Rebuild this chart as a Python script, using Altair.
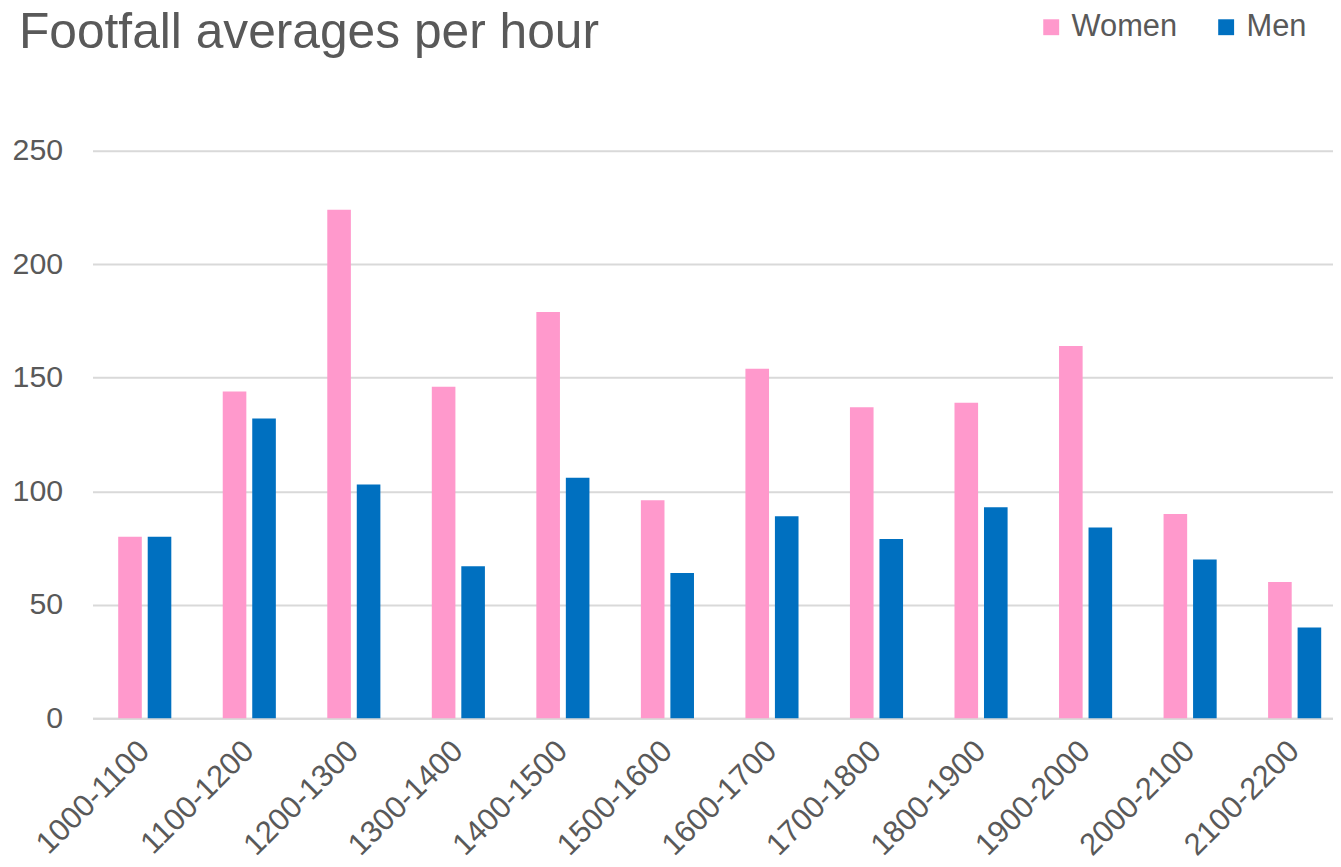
import altair as alt
import pandas as pd

hours = ["1000-1100", "1100-1200", "1200-1300", "1300-1400", "1400-1500", "1500-1600",
         "1600-1700", "1700-1800", "1800-1900", "1900-2000", "2000-2100", "2100-2200"]
women = [80, 144, 224, 146, 179, 96, 154, 137, 139, 164, 90, 60]
men = [80, 132, 103, 67, 106, 64, 89, 79, 93, 84, 70, 40]
series = ["Women", "Men"]
colors = ["#FF99CC", "#0070C0"]

rows = []
for i, h in enumerate(hours):
    rows.append({"hour": h, "gender": "Women", "value": women[i]})
    rows.append({"hour": h, "gender": "Men", "value": men[i]})
df = pd.DataFrame(rows)

font = "Liberation Sans"
gray = "#595959"

chart = alt.Chart(df).mark_bar().encode(
    x=alt.X("hour:N", sort=hours, title=None,
            scale=alt.Scale(paddingInner=0.492, paddingOuter=0.246, range=[0, 1262]),
            axis=alt.Axis(labelAngle=315, labelAlign="right", labelBaseline="middle",
                          labelFontSize=31, labelColor=gray, labelFont=font,
                          labelPadding=28, ticks=False, domainColor="#D9D9D9",
                          domainWidth=2, grid=False)),
    xOffset=alt.XOffset("gender:N", sort=series,
                        scale=alt.Scale(paddingInner=0.2, paddingOuter=0)),
    y=alt.Y("value:Q", title=None,
            scale=alt.Scale(domain=[0, 250]),
            axis=alt.Axis(values=[0, 50, 100, 150, 200, 250], labelFontSize=30.5,
                          labelColor=gray, labelFont=font, labelPadding=30,
                          ticks=False, domain=False, gridColor="#D9D9D9",
                          gridWidth=2)),
    color=alt.Color("gender:N", sort=series,
                    scale=alt.Scale(domain=series, range=colors),
                    legend=alt.Legend(title=None, orient="none", legendX=949, legendY=-140,
                                      direction="horizontal", symbolType="square",
                                      symbolSize=256, symbolStrokeWidth=0,
                                      labelFontSize=31, labelColor=gray, labelFont=font,
                                      labelOffset=5, columnPadding=33, padding=0)),
).properties(
    width=1248,
    height=571,
    title=alt.TitleParams(text="Footfall averages per hour", anchor="start", frame="group",
                          fontSize=50, color=gray, font=font, fontWeight="normal",
                          baseline="alphabetic", offset=-87, dx=-74),
    autosize=alt.AutoSizeParams(type="none"),
    padding={"left": 85, "top": 141, "right": 0, "bottom": 146},
).configure_view(stroke=None)

chart.save("out.html", embed_options={"renderer": "svg", "actions": False})
